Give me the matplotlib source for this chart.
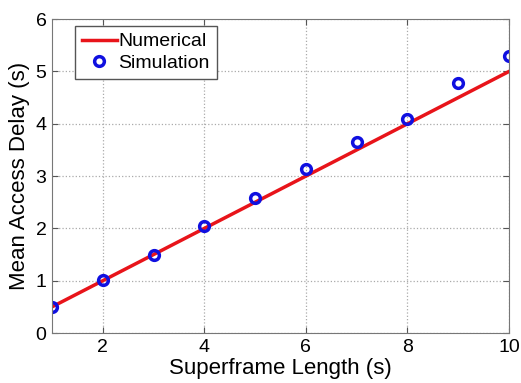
import numpy as np
import matplotlib
matplotlib.use('Agg')
import matplotlib.pyplot as plt

plt.rcParams['font.family'] = ['Liberation Sans', 'DejaVu Sans']

# Data
superframe = [1, 2, 3, 4, 5, 6, 7, 8, 9, 10]
numerical = [0.5, 1.0, 1.5, 2.0, 2.5, 3.0, 3.5, 4.0, 4.5, 5.0]
simulation = [0.50, 1.01, 1.49, 2.04, 2.59, 3.14, 3.66, 4.09, 4.78, 5.29]

fig = plt.figure(figsize=(5.21, 3.83), dpi=100)
ax = fig.add_axes([0.0998, 0.1305, 0.8772, 0.8195])

ax.plot(superframe, numerical, '-', color='#e8141a', linewidth=2.5, label='Numerical')
ax.plot(superframe, simulation, 'o', color='#1010e0', markerfacecolor='none',
        markeredgewidth=2.5, markersize=7, label='Simulation')

ax.set_xlim(1, 10)
ax.set_ylim(0, 6)
ax.set_xticks([2, 4, 6, 8, 10])
ax.set_yticks([0, 1, 2, 3, 4, 5, 6])
ax.tick_params(direction='in', top=True, right=True, labelsize=14, length=4,
               color='#555555', pad=4)
for s in ax.spines.values():
    s.set_color('#777777')
ax.grid(True, linestyle=':', color='#aaaaaa', linewidth=0.9)

ax.set_xlabel('Superframe Length (s)', fontsize=16, labelpad=2)
ax.set_ylabel('Mean Access Delay (s)', fontsize=16, labelpad=4)

leg = ax.legend(loc='upper left', fontsize=14, fancybox=False, framealpha=1,
                edgecolor='#555555', handlelength=1.8, handletextpad=0.1,
                borderpad=0.35, labelspacing=0.2, borderaxespad=0.0,
                bbox_to_anchor=(0.05, 0.978))
leg.get_frame().set_linewidth(1.0)

fig.savefig('out.png', dpi=100)
